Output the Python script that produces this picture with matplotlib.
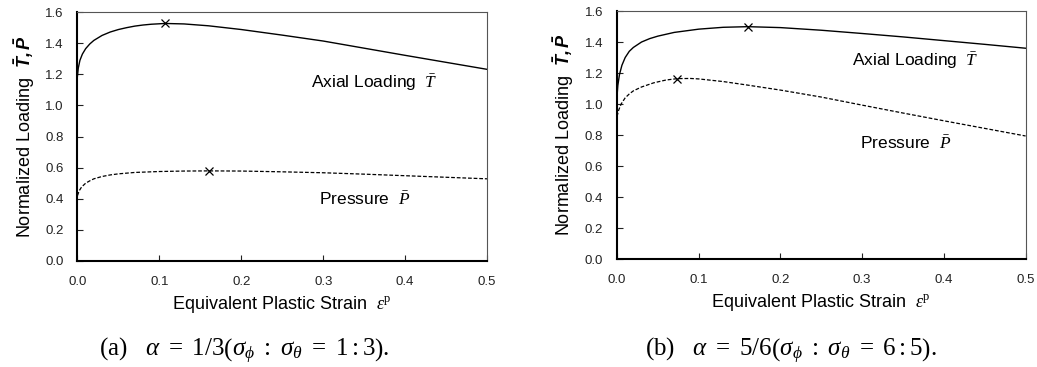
import matplotlib
matplotlib.use("Agg")
import matplotlib.pyplot as plt

plt.rcParams['font.family'] = ['Liberation Sans', 'DejaVu Sans']
plt.rcParams['mathtext.fontset'] = 'custom'
plt.rcParams['mathtext.rm'] = 'Liberation Serif'
plt.rcParams['mathtext.it'] = 'Liberation Serif:italic'
plt.rcParams['mathtext.bf'] = 'Liberation Sans:bold:italic'

# (a) alpha = 1/3
strain_a = [0.0, 0.001, 0.003, 0.006, 0.01, 0.015, 0.02, 0.03, 0.04, 0.05, 0.06, 0.07, 0.08, 0.09, 0.107, 0.13, 0.16, 0.2, 0.25, 0.3, 0.35, 0.4, 0.45, 0.5]
axial_a = [1.19, 1.24, 1.29, 1.33, 1.365, 1.395, 1.418, 1.45, 1.472, 1.488, 1.50, 1.51, 1.517, 1.522, 1.527, 1.524, 1.512, 1.488, 1.452, 1.414, 1.368, 1.322, 1.277, 1.232]
pstrain_a = [0.0, 0.002, 0.005, 0.01, 0.015, 0.02, 0.03, 0.04, 0.05, 0.07, 0.1, 0.13, 0.16, 0.2, 0.25, 0.3, 0.35, 0.4, 0.45, 0.5]
press_a = [0.42, 0.45, 0.475, 0.50, 0.515, 0.528, 0.543, 0.553, 0.56, 0.569, 0.575, 0.578, 0.579, 0.578, 0.573, 0.567, 0.558, 0.548, 0.538, 0.528]
peak_a = [(0.107, 1.527), (0.16, 0.579)]

# (b) alpha = 5/6
strain_b = [0.0, 0.001, 0.003, 0.006, 0.01, 0.015, 0.02, 0.03, 0.04, 0.05, 0.07, 0.1, 0.13, 0.16, 0.2, 0.25, 0.3, 0.35, 0.4, 0.45, 0.5]
axial_b = [1.05, 1.12, 1.19, 1.25, 1.30, 1.34, 1.365, 1.40, 1.422, 1.438, 1.462, 1.483, 1.495, 1.499, 1.493, 1.476, 1.455, 1.433, 1.409, 1.385, 1.36]
pstrain_b = [0.0, 0.002, 0.005, 0.01, 0.015, 0.02, 0.03, 0.045, 0.06, 0.074, 0.09, 0.1, 0.13, 0.16, 0.2, 0.25, 0.3, 0.35, 0.4, 0.45, 0.5]
press_b = [0.92, 0.96, 1.0, 1.04, 1.065, 1.085, 1.11, 1.137, 1.155, 1.164, 1.165, 1.162, 1.145, 1.122, 1.09, 1.045, 0.993, 0.942, 0.892, 0.843, 0.794]
peak_b = [(0.16, 1.499), (0.074, 1.164)]

panels = [
    dict(rect=[0.0747, 0.289, 0.395, 0.678], t=(strain_a, axial_a), p=(pstrain_a, press_a), peaks=peak_a,
         tlab=(0.285, 1.15), plab=(0.295, 0.396),
         cap=r'(a)   $\alpha\ =\ 1/3\left(\sigma_\phi\ :\ \sigma_\theta\ =\ 1:3\right)$.', capx=0.236),
    dict(rect=[0.595, 0.294, 0.394, 0.676], t=(strain_b, axial_b), p=(pstrain_b, press_b), peaks=peak_b,
         tlab=(0.287, 1.28), plab=(0.297, 0.75),
         cap=r'(b)   $\alpha\ =\ 5/6\left(\sigma_\phi\ :\ \sigma_\theta\ =\ 6:5\right)$.', capx=0.763),
]

fig = plt.figure(figsize=(10.37, 3.67), dpi=100)

for pn in panels:
    ax = fig.add_axes(pn['rect'])
    ax.plot(*pn['t'], color='black', lw=1.0)
    ax.plot(*pn['p'], color='black', lw=0.9, ls=(0, (3, 1.5)))
    for px, py in pn['peaks']:
        ax.plot(px, py, marker='x', color='black', ms=6, mew=0.9)
    ax.set_xlim(0, 0.5)
    ax.set_ylim(0, 1.6)
    ax.set_xticks([0.0, 0.1, 0.2, 0.3, 0.4, 0.5])
    ax.set_xticklabels(['0.0', '0.1', '0.2', '0.3', '0.4', '0.5'])
    ax.set_yticks([0.0, 0.2, 0.4, 0.6, 0.8, 1.0, 1.2, 1.4, 1.6])
    ax.set_yticklabels(['0.0', '0.2', '0.4', '0.6', '0.8', '1.0', '1.2', '1.4', '1.6'])
    ax.tick_params(direction='in', length=4, width=0.8, labelsize=9.5, colors='#222222')
    ax.tick_params(axis='x', pad=11)
    ax.tick_params(axis='y', pad=10)
    ax.spines['left'].set_linewidth(1.5)
    ax.spines['bottom'].set_linewidth(1.5)
    for s in ['top', 'right']:
        ax.spines[s].set_linewidth(0.8)
        ax.spines[s].set_color('#555555')
    ax.set_xlabel(r'Equivalent Plastic Strain  $\varepsilon^{\mathrm{p}}$', fontsize=13, labelpad=4)
    ax.set_ylabel(r'Normalized Loading  $\mathbf{\bar{T},\bar{P}}$', fontsize=13, labelpad=6)
    ax.text(*pn['tlab'], r'Axial Loading  $\bar{T}$', fontsize=12.5, va='center')
    ax.text(*pn['plab'], r'Pressure  $\bar{P}$', fontsize=12.5, va='center')
    fig.text(pn['capx'], 0.045, pn['cap'], fontsize=18, ha='center', va='center',
             family='Liberation Serif')

fig.savefig('out.png', dpi=100)
